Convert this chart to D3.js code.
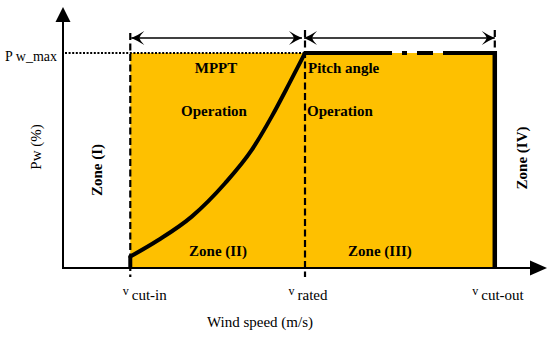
<!DOCTYPE html>
<html><head><meta charset="utf-8">
<script src="https://cdn.jsdelivr.net/npm/d3@7"></script>
<style>
body{margin:0;background:#fff;}
svg{display:block;}
svg text{font-family:"Liberation Serif","Times New Roman","DejaVu Serif",serif !important;}
</style></head>
<body><svg id="c" width="550" height="338"></svg>
<script>
// ---- data ----
const speedNames = ["cut-in", "rated", "cut-out"];
const speedValues = [3.35, 12.05, 21.5];      // m/s (schematic)
const powerMaxLabel = "P w_max";
const powerMax = 100;                         // %
// MPPT curve (zone II)
const curveSpeed = [3.35, 4.75, 6.41, 8.07, 9.40, 10.39, 11.25, 12.05];
const curvePower = [5.3, 13.0, 23.9, 39.4, 54.9, 70.4, 85.5, 100];
const zoneNames = ["Zone (I)", "Zone (II)", "Zone (III)", "Zone (IV)"];

const svg = d3.select("#c");
const x = d3.scaleLinear().domain([0, 24]).range([63, 545]);
const y = d3.scaleLinear().domain([0, 100]).range([268, 53]);
const [vIn, vRated, vOut] = speedValues.map(v => x(v));
const yMax = y(powerMax), y0 = y(0);

// defs: barbed arrowhead
const defs = svg.append("defs");
defs.append("marker").attr("id", "barb").attr("viewBox", "-14 -8 16 16")
  .attr("refX", 0).attr("refY", 0).attr("markerWidth", 16).attr("markerHeight", 16)
  .attr("markerUnits", "userSpaceOnUse").attr("orient", "auto-start-reverse")
  .append("path").attr("d", "M0,0 Q-7,-3 -13,-7 Q-9,-3 -8,0 Q-9,3 -13,7 Q-7,3 0,0Z").attr("fill", "#000");

// orange operating area
svg.append("rect").attr("x", vIn).attr("y", yMax).attr("width", vOut - vIn).attr("height", y0 - yMax)
  .attr("fill", "#FEC000");

// dotted Pmax line
svg.append("line").attr("x1", 65).attr("x2", vRated).attr("y1", yMax).attr("y2", yMax)
  .attr("stroke", "#000").attr("stroke-width", 2).attr("stroke-dasharray", "2,1.6");

// dashed verticals
[[vIn, 33, 277], [vRated, 30, 277], [vOut, 30, yMax]].forEach(([px, a, b]) => {
  svg.append("line").attr("x1", px).attr("x2", px).attr("y1", a).attr("y2", b)
    .attr("stroke", "#000").attr("stroke-width", 2.2).attr("stroke-dasharray", "7,3.5");
});

// axes
svg.append("line").attr("x1", 63).attr("x2", 63).attr("y1", y0 + 1).attr("y2", 20)
  .attr("stroke", "#000").attr("stroke-width", 2);
svg.append("path").attr("d", "M63,7 L55.5,22 L70.5,22Z").attr("fill", "#000");
svg.append("line").attr("x1", 62).attr("x2", 532).attr("y1", y0).attr("y2", y0)
  .attr("stroke", "#000").attr("stroke-width", 2);
svg.append("path").attr("d", `M547,${y0} L530,${y0-7.5} L530,${y0+7.5}Z`).attr("fill", "#000");

// x axis labels via d3 axis
const xAxis = d3.axisBottom(x).tickValues(speedValues).tickSize(0).tickFormat(() => "");
const gx = svg.append("g").attr("transform", `translate(0,${y0})`).call(xAxis);
gx.select(".domain").remove();
const labelShift = [-8, -17, -23];
gx.selectAll(".tick").each(function(d, i) {
  const t = d3.select(this).select("text").attr("text-anchor", "start")
    .attr("x", labelShift[i]).attr("y", 32).attr("dy", 0)
    .attr("font-size", 15).attr("fill", "#000");
  t.append("tspan").attr("font-size", 12).attr("dy", -5).text("v");
  t.append("tspan").attr("dx", 3).attr("dy", 5).text(speedNames[i]);
});

// y axis label (Pmax)
const yAxis = d3.axisLeft(y).tickValues([powerMax]).tickSize(0).tickFormat(() => powerMaxLabel);
const gy = svg.append("g").attr("transform", "translate(63,0)").call(yAxis);
gy.select(".domain").remove();
gy.selectAll(".tick text").attr("x", -6).attr("dy", "0.56em")
  .attr("font-size", 14).attr("fill", "#000");

// axis titles
svg.append("text").attr("x", 260).attr("y", 327).attr("text-anchor", "middle")
  .attr("font-size", 15).text("Wind speed (m/s)");
svg.append("text").attr("transform", "translate(41,147) rotate(-90)").attr("text-anchor", "middle")
  .attr("font-size", 15).text("Pw (%)");

// MPPT curve
const pts = curveSpeed.map((v, i) => [x(v), y(curvePower[i])]);
svg.append("line").attr("x1", vIn).attr("x2", vIn).attr("y1", y0).attr("y2", pts[0][1])
  .attr("stroke", "#000").attr("stroke-width", 4);
svg.append("path").attr("d", d3.line().curve(d3.curveMonotoneX)(pts))
  .attr("fill", "none").attr("stroke", "#000").attr("stroke-width", 4).attr("stroke-linecap", "round");

// Pitch limited (rated) line with dash-dot gap, and cut-out vertical
svg.append("line").attr("x1", vRated).attr("x2", vOut + 2).attr("y1", yMax).attr("y2", yMax)
  .attr("stroke", "#000").attr("stroke-width", 4).attr("stroke-dasharray", "87,10,5,10,16,10,60");
svg.append("line").attr("x1", vOut).attr("x2", vOut).attr("y1", yMax - 2).attr("y2", y0 + 1)
  .attr("stroke", "#000").attr("stroke-width", 4.5);

// double arrows
[[vIn + 1, vRated - 3], [vRated - 1, vOut]].forEach(([a, b]) => {
  svg.append("line").attr("x1", a).attr("x2", b).attr("y1", 38).attr("y2", 38)
    .attr("stroke", "#000").attr("stroke-width", 1.5)
    .attr("marker-start", "url(#barb)").attr("marker-end", "url(#barb)");
});

// zone texts
const bold = (sel) => sel.attr("font-weight", "bold").attr("font-size", 15).attr("fill", "#000");
bold(svg.append("text").attr("x", 216).attr("y", 73).attr("text-anchor", "middle").text("MPPT"));
bold(svg.append("text").attr("x", 214).attr("y", 116).attr("text-anchor", "middle").text("Operation"));
bold(svg.append("text").attr("x", 308).attr("y", 73).text("Pitch angle"));
bold(svg.append("text").attr("x", 307).attr("y", 116).text("Operation"));
bold(svg.append("text").attr("x", 218).attr("y", 256).attr("text-anchor", "middle").text(zoneNames[1]));
bold(svg.append("text").attr("x", 380).attr("y", 256).attr("text-anchor", "middle").text(zoneNames[2]));
bold(svg.append("text").attr("transform", "translate(102,170) rotate(-90)").attr("text-anchor", "middle").text(zoneNames[0]));
bold(svg.append("text").attr("transform", "translate(527,158) rotate(-90)").attr("text-anchor", "middle").text(zoneNames[3]));
</script></body></html>
